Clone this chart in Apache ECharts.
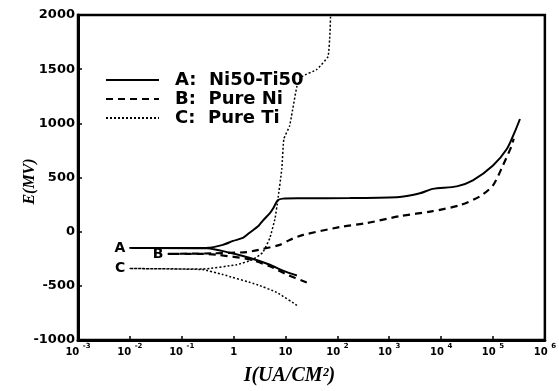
<!DOCTYPE html>
<html>
<head>
<meta charset="utf-8">
<script src="https://cdn.jsdelivr.net/npm/echarts@6/dist/echarts.min.js"></script>
<style>
  html, body { margin: 0; padding: 0; background: #fff; }
  #chart { width: 559px; height: 391px; }
</style>
</head>
<body>
<div id="chart"></div>
<script>
// Potentiodynamic polarization curves: current density (µA/cm²) vs potential (mV)
const seriesNames = ['A:  Ni50-Ti50', 'B:  Pure Ni', 'C:  Pure Ti'];
const curveTags = ['A', 'B', 'C'];

// Ni50-Ti50: cathodic branch, tip at Ecorr, then anodic branch
const currentA = [16.6, 8.9, 5.0, 2.0, 0.85, 0.31, 0.01, 0.31, 0.62, 0.98, 1.5, 2.0, 3.0, 3.6, 5.0, 5.8, 7.1, 8.9, 19, 174, 1580, 3900, 6900, 20000, 41000, 100000, 186000, 263000, 331000];
const potentialA = [-405, -360, -305, -241, -195, -152, -150, -149, -122, -85, -58, -12, 52, 98, 171, 216, 290, 305, 308, 310, 320, 354, 395, 418, 473, 610, 765, 921, 1040];

// Pure Ni
const currentB = [25.7, 10, 5, 2, 0.5, 0.28, 0.054, 0.40, 1.8, 3.6, 7.8, 12, 22, 112, 370, 1580, 6900, 23000, 56000, 100000, 155000, 229000, 251000];
const potentialB = [-470, -390, -320, -255, -215, -206, -205, -200, -188, -160, -122, -76, -30, 43, 79, 143, 189, 244, 326, 427, 610, 793, 857];

// Pure Ti
const currentC = [16.6, 6.8, 2.8, 0.62, 0.25, 0.01, 0.25, 1.15, 2.3, 3.6, 5.0, 6.3, 7.1, 8.5, 9.3, 12, 16.6, 21, 40, 66, 72, 74];
const potentialC = [-680, -561, -488, -396, -350, -340, -345, -305, -259, -195, -58, 125, 290, 582, 857, 976, 1341, 1433, 1497, 1616, 1835, 2000];

const yTicks = [-1000, -500, 0, 500, 1000, 1500, 2000];

function buildData(cur, pot, tag) {
  let tip = 0;
  for (let i = 1; i < cur.length; i++) if (cur[i] < cur[tip]) tip = i;
  return cur.map((c, i) => {
    if (i !== tip) return [c, pot[i]];
    return {
      value: [c, pot[i]],
      symbol: 'circle',
      symbolSize: 1,
      label: {
        show: true, position: 'left', distance: 4, formatter: tag,
        fontFamily: 'DejaVu Sans', fontWeight: 'bold', fontSize: 14, color: '#000'
      }
    };
  });
}

const chart = echarts.init(document.getElementById('chart'), null, { renderer: 'canvas' });

const lineStyles = [
  { color: '#000', width: 2, type: 'solid' },
  { color: '#000', width: 2.2, type: [7, 5] },
  { color: '#000', width: 1.5, type: [2, 2] }
];
const smoothing = [0.25, 0.25, 0.12];
const allCurrents = [currentA, currentB, currentC];
const allPotentials = [potentialA, potentialB, potentialC];

chart.setOption({
  animation: false,
  backgroundColor: '#fff',
  grid: {
    left: 78, right: 14, top: 15, bottom: 48,
    show: true, borderColor: '#000', borderWidth: 2.5, backgroundColor: 'transparent'
  },
  legend: {
    orient: 'vertical', left: 100, top: 66,
    itemWidth: 53, itemHeight: 12, itemGap: 1,
    data: seriesNames,
    itemStyle: { opacity: 0 },
    textStyle: {
      fontFamily: 'DejaVu Sans', fontWeight: 'bold', fontSize: 18, color: '#000',
      lineHeight: 16, padding: [0, 0, 0, 11]
    }
  },
  xAxis: {
    type: 'log', logBase: 10, min: 1e-3, max: 1e6,
    name: 'I(UA/CM²)', nameLocation: 'middle', nameGap: 26,
    nameTextStyle: {
      fontFamily: 'Liberation Serif', fontWeight: 'bold', fontStyle: 'italic',
      fontSize: 20, color: '#000', padding: [0, 44, 0, 0]
    },
    axisLine: { onZero: false, lineStyle: { color: '#000', width: 3 } },
    axisTick: { show: true, inside: true, length: 4, lineStyle: { color: '#000', width: 1.5 } },
    minorTick: { show: false },
    splitLine: { show: false },
    axisLabel: {
      margin: 3, color: '#000', fontFamily: 'DejaVu Sans', fontWeight: 'bold', fontSize: 10,
      formatter: function (v) {
        const e = Math.round(Math.log10(v));
        if (e === 0) return '{b|1}';
        if (e === 1) return '{b|10}';
        return '{b|10} {s|' + e + '}';
      },
      rich: {
        b: { fontFamily: 'DejaVu Sans', fontWeight: 'bold', fontSize: 10, color: '#000', lineHeight: 14, verticalAlign: 'bottom' },
        s: { fontFamily: 'DejaVu Sans', fontWeight: 'bold', fontSize: 7, color: '#000', lineHeight: 14, verticalAlign: 'top' }
      }
    }
  },
  yAxis: {
    type: 'value', min: -1000, max: 2000, interval: 500,
    name: 'E(MV)', nameLocation: 'middle', nameGap: 40, nameRotate: 90,
    nameMoveOverlap: false,
    nameTextStyle: {
      fontFamily: 'Liberation Serif', fontWeight: 'bold', fontStyle: 'italic',
      fontSize: 16, color: '#000', padding: [0, 8, 0, 0]
    },
    axisLine: { show: true, onZero: false, lineStyle: { color: '#000', width: 3 } },
    axisTick: { show: true, inside: true, length: 4, lineStyle: { color: '#000', width: 1.5 } },
    minorTick: { show: true, splitNumber: 5, length: 2, lineStyle: { color: '#000', width: 1 } },
    splitLine: { show: false },
    axisLabel: {
      margin: 3, color: '#000', fontFamily: 'DejaVu Sans', fontWeight: 'bold', fontSize: 13,
      customValues: yTicks,
      formatter: function (v) { return String(v); }
    }
  },
  series: seriesNames.map((name, k) => ({
    name: name,
    type: 'line',
    symbol: 'none',
    showSymbol: true,
    smooth: smoothing[k],
    clip: true,
    lineStyle: lineStyles[k],
    itemStyle: { color: '#000' },
    data: buildData(allCurrents[k], allPotentials[k], curveTags[k])
  }))
});
</script>
</body>
</html>
